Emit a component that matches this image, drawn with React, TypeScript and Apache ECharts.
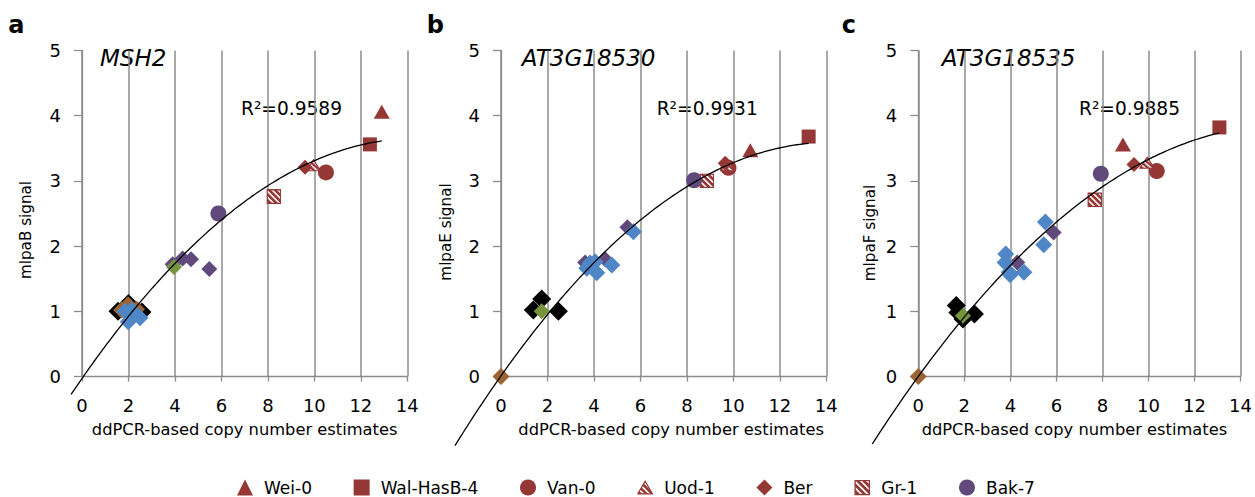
import React, { useEffect, useRef } from "react";
import * as echarts from "echarts";

// ---------- data ----------
const PANEL_LETTERS = ["a", "b", "c"];
const GENE_NAMES = ["MSH2", "AT3G18530", "AT3G18535"];
const Y_NAMES = ["mlpaB signal", "mlpaE signal", "mlpaF signal"];
const X_NAME = "ddPCR-based copy number estimates";
const R2_LABELS = ["R²=0.9589", "R²=0.9931", "R²=0.9885"];
const X_MIN = 0;
const X_MAX = 14;
const X_STEP = 2;
const Y_MIN = 0;
const Y_MAX = 5;
const Y_STEP = 1;

// each array: [panel a points, panel b points, panel c points]
const wei0 = [[[12.9, 4.06]], [[10.73, 3.47]], [[8.89, 3.56]]];
const walHasB4 = [[[12.39, 3.56]], [[13.24, 3.68]], [[13.08, 3.82]]];
const van0 = [[[10.5, 3.13]], [[9.79, 3.2]], [[10.36, 3.15]]];
const uod1 = [[[9.96, 3.24]], [[9.75, 3.24]], [[9.94, 3.28]]];
const ber = [[[9.6, 3.21]], [[9.65, 3.27]], [[9.37, 3.25]]];
const gr1 = [[[8.26, 2.76]], [[8.86, 3.0]], [[7.67, 2.71]]];
const bak7 = [[[5.87, 2.5]], [[8.31, 3.01]], [[7.93, 3.11]]];

const blackGroup = [
  [[1.55, 1.0], [2.58, 0.99], [2.0, 1.12]],
  [[1.75, 1.19], [1.39, 1.02], [2.47, 1.0]],
  [[1.65, 1.09], [2.44, 0.96], [1.94, 0.88], [1.72, 0.98]],
];
const brownGroup = [
  [[1.7, 1.02], [1.98, 1.1], [2.35, 1.03]],
  [[0, 0]],
  [[0, 0]],
];
const purpleGroup = [
  [[3.9, 1.72], [4.33, 1.81], [4.69, 1.8], [5.48, 1.65]],
  [[5.44, 2.29], [4.48, 1.8], [3.62, 1.75]],
  [[5.88, 2.21], [4.3, 1.75]],
];
const blueGroup = [
  [[1.85, 1.0], [2.14, 1.02], [1.99, 0.84], [2.5, 0.9]],
  [[5.7, 2.22], [3.69, 1.66], [4.12, 1.59], [4.77, 1.71], [3.83, 1.74], [4.05, 1.76]],
  [[5.52, 2.37], [5.45, 2.02], [3.8, 1.88], [3.77, 1.75], [3.95, 1.6], [4.59, 1.6], [3.99, 1.56]],
];
const greenGroup = [[[3.96, 1.68]], [[1.75, 1.0]], [[1.94, 0.93]]];

// polynomial (2nd order) trendlines: [c0, c1, c2]
const TREND_COEFFS = [
  [-0.03, 0.512, -0.0178],
  [0.01, 0.505, -0.0178],
  [0.0, 0.487, -0.0154],
];
const TREND_X_RANGE = [
  [-0.47, 12.9],
  [-1.98, 13.24],
  [-2.0, 13.08],
];

// ---------- styling ----------
const FONT = "DejaVu Sans";
const RED = "#953735";
const PURPLE = "#604A7B";
const BLUE = "#4F86C6";
const GREEN = "#77933C";
const BROWN = "#9C6432";
const AXIS_GRAY = "#8C8C8C";
const GRID_LEFT = [82, 501, 918.3];
const GRID_TOP = 50.5;
const GRID_W = 325.3;
const GRID_H = 326;
const Y_NAME_X = [25.8, 446, 870];
const Y_NAME_Y = [230, 232, 233];
const X_NAME_PAD = [
  [0, 0, 0, 0],
  [0, 0, 0, 15],
  [0, 10, 0, 0],
];

// hatched marker images (red with white diagonal stripes)
const hatchDefs =
  "<defs><pattern id='h' width='4.2' height='4.2' patternUnits='userSpaceOnUse' patternTransform='rotate(45)'>" +
  "<rect width='4.2' height='4.2' fill='" + RED + "'/><rect width='4.2' height='1.6' fill='#ffffff'/></pattern></defs>";
const hatchSquareSvg =
  "<svg xmlns='http://www.w3.org/2000/svg' width='15' height='15' viewBox='0 0 15 15'>" +
  hatchDefs +
  "<rect x='0.7' y='0.7' width='13.6' height='13.6' fill='url(#h)' stroke='" + RED + "' stroke-width='1.4'/></svg>";
const hatchTriangleSvg =
  "<svg xmlns='http://www.w3.org/2000/svg' width='16' height='14' viewBox='0 0 16 14'>" +
  hatchDefs +
  "<polygon points='8,0.8 15.3,13.3 0.7,13.3' fill='url(#h)' stroke='" + RED + "' stroke-width='1.2' stroke-linejoin='miter'/></svg>";
const toImg = (svg: string) => "image://data:image/svg+xml;charset=utf-8," + encodeURIComponent(svg);
const HATCH_SQUARE = toImg(hatchSquareSvg);
const HATCH_TRIANGLE = toImg(hatchTriangleSvg);

const LEGEND_SERIES = [
  { name: "Wei-0", data: wei0, symbol: "triangle", size: [16, 14], color: RED },
  { name: "Wal-HasB-4", data: walHasB4, symbol: "rect", size: 14, color: RED },
  { name: "Van-0", data: van0, symbol: "circle", size: 16, color: RED },
  { name: "Uod-1", data: uod1, symbol: HATCH_TRIANGLE, size: [16, 14], color: RED },
  { name: "Ber", data: ber, symbol: "diamond", size: 15, color: RED },
  { name: "Gr-1", data: gr1, symbol: HATCH_SQUARE, size: 15, color: RED },
  { name: "Bak-7", data: bak7, symbol: "circle", size: 16, color: PURPLE },
];

const EXTRA_SERIES = [
  { name: "black", data: blackGroup, symbol: "diamond", size: 19, color: "#000000" },
  { name: "brown", data: brownGroup, symbol: "diamond", size: 17, color: BROWN },
  { name: "purple", data: purpleGroup, symbol: "diamond", size: 16, color: PURPLE },
  { name: "blue", data: blueGroup, symbol: "diamond", size: 17, color: BLUE },
  { name: "green", data: greenGroup, symbol: "diamond", size: 16, color: GREEN },
];

function buildOption() {
  const grids: any[] = [];
  const xAxes: any[] = [];
  const yAxes: any[] = [];
  const series: any[] = [];
  const graphics: any[] = [];

  for (let p = 0; p < 3; p++) {
    grids.push({ left: GRID_LEFT[p], top: GRID_TOP, width: GRID_W, height: GRID_H });
    xAxes.push({
      type: "value",
      gridIndex: p,
      min: X_MIN,
      max: X_MAX,
      interval: X_STEP,
      name: X_NAME,
      nameLocation: "middle",
      nameGap: 45,
      nameTextStyle: { fontFamily: FONT, fontSize: 16.3, color: "#000", padding: X_NAME_PAD[p] },
      axisLine: { show: true, onZero: false, lineStyle: { color: AXIS_GRAY, width: 1.3 } },
      axisTick: { show: true, length: 5, lineStyle: { color: AXIS_GRAY, width: 1.3 } },
      axisLabel: { fontFamily: FONT, fontSize: 18, color: "#000", margin: 20 },
      splitLine: { show: true, lineStyle: { color: AXIS_GRAY, width: 1.5 } },
    });
    yAxes.push({
      type: "value",
      gridIndex: p,
      min: Y_MIN,
      max: Y_MAX,
      interval: Y_STEP,
      axisLine: { show: true, onZero: false, lineStyle: { color: AXIS_GRAY, width: 1.3 } },
      axisTick: { show: true, length: 8, lineStyle: { color: AXIS_GRAY, width: 1.3 } },
      axisLabel: { fontFamily: FONT, fontSize: 18, color: "#000", margin: 21 },
      splitLine: { show: false },
    });

    for (const s of EXTRA_SERIES) {
      series.push({
        type: "scatter",
        name: s.name,
        xAxisIndex: p,
        yAxisIndex: p,
        data: s.data[p],
        symbol: s.symbol,
        symbolSize: s.size,
        itemStyle: { color: s.color, opacity: 1 },
        z: 2,
      });
    }
    for (const s of LEGEND_SERIES) {
      series.push({
        type: "scatter",
        name: s.name,
        xAxisIndex: p,
        yAxisIndex: p,
        data: s.data[p],
        symbol: s.symbol,
        symbolSize: s.size,
        itemStyle: { color: s.color, opacity: 1 },
        z: 3,
      });
    }

    const [c0, c1, c2] = TREND_COEFFS[p];
    const [x0, x1] = TREND_X_RANGE[p];
    const n = 120;
    const trend: number[][] = [];
    for (let i = 0; i <= n; i++) {
      const x = x0 + ((x1 - x0) * i) / n;
      trend.push([x, c0 + c1 * x + c2 * x * x]);
    }
    series.push({
      type: "custom",
      name: "trend-" + PANEL_LETTERS[p],
      coordinateSystem: "cartesian2d",
      xAxisIndex: p,
      yAxisIndex: p,
      data: trend,
      clip: false,
      silent: true,
      z: 5,
      renderItem: (params: any, api: any) => {
        if (params.dataIndex !== 0) return null;
        return {
          type: "polyline",
          shape: { points: trend.map((pt) => api.coord(pt)) },
          style: { stroke: "#000", lineWidth: 1.3, fill: "none" },
        };
      },
    });

    // texts
    graphics.push({
      type: "text",
      x: [8.3, 426.7, 841.7][p],
      y: 25,
      style: {
        text: PANEL_LETTERS[p],
        fontFamily: FONT,
        fontWeight: "bold",
        fontSize: 24,
        fill: "#000",
        align: "left",
        verticalAlign: "middle",
        textAlign: "left",
        textVerticalAlign: "middle",
      },
    });
    graphics.push({
      type: "text",
      x: [100, 521.7, 941.7][p],
      y: 58,
      style: {
        text: GENE_NAMES[p],
        fontFamily: FONT,
        fontStyle: "italic",
        fontSize: 23,
        fill: "#000",
        align: "left",
        verticalAlign: "middle",
        textAlign: "left",
        textVerticalAlign: "middle",
      },
    });
    graphics.push({
      type: "text",
      x: [241, 656.7, 1079][p],
      y: 108,
      style: {
        text: R2_LABELS[p],
        fontFamily: FONT,
        fontSize: 18.6,
        fill: "#000",
        align: "left",
        verticalAlign: "middle",
        textAlign: "left",
        textVerticalAlign: "middle",
      },
    });
    graphics.push({
      type: "text",
      x: Y_NAME_X[p],
      y: Y_NAME_Y[p],
      rotation: Math.PI / 2,
      style: {
        text: Y_NAMES[p],
        fontFamily: FONT,
        fontSize: 15.2,
        fill: "#000",
        align: "center",
        verticalAlign: "middle",
        textAlign: "center",
        textVerticalAlign: "middle",
      },
    });
  }

  return {
    animation: false,
    backgroundColor: "#ffffff",
    grid: grids,
    xAxis: xAxes,
    yAxis: yAxes,
    series,
    graphic: { elements: graphics },
    legend: {
      data: LEGEND_SERIES.map((s) => s.name),
      left: 232,
      top: 474,
      itemWidth: 16,
      itemHeight: 16,
      itemGap: 41.7,
      selectedMode: false,
      textStyle: { fontFamily: FONT, fontSize: 17, color: "#000", padding: [0, 0, 0, 6] },
    },
  };
}

export default function App() {
  const ref = useRef<HTMLDivElement>(null);
  useEffect(() => {
    if (!ref.current) return;
    const chart = echarts.init(ref.current, null, { renderer: "svg" });
    chart.setOption(buildOption() as any);
    return () => chart.dispose();
  }, []);
  return (
    <div
      ref={ref}
      style={{ position: "absolute", left: 0, top: 0, width: 1255, height: 497, background: "#fff" }}
    />
  );
}
